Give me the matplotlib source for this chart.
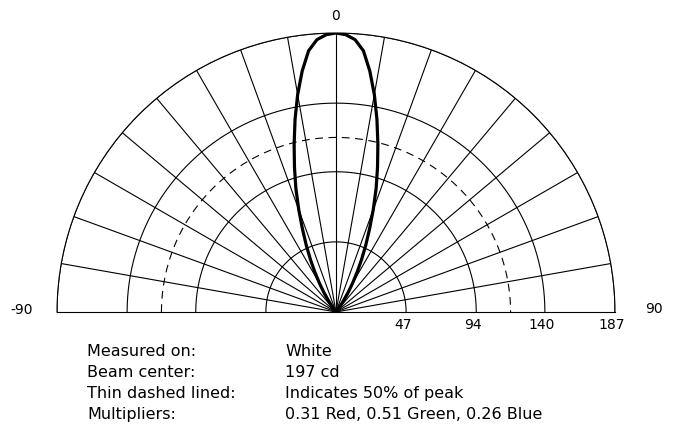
import numpy as np
import matplotlib
matplotlib.use('Agg')
import matplotlib.pyplot as plt
from matplotlib.transforms import ScaledTranslation

# beam profile (degrees, intensity on the 0..187 scale)
angle_deg = [-40, -38, -36, -34, -32, -30, -28, -26, -24, -22, -20, -18, -16, -14, -12, -10, -8, -6, -4, -2,
             0, 2, 4, 6, 8, 10, 12, 14, 16, 18, 20, 22, 24, 26, 28, 30, 32, 34, 36, 38, 40]
intensity = [0, 2, 5, 9, 15, 22, 30, 39, 49, 60, 73, 87, 101, 116, 132, 148, 163, 176, 183, 186,
             187, 186, 183, 176, 163, 148, 132, 116, 101, 87, 73, 60, 49, 39, 30, 22, 15, 9, 5, 2, 0]

ring_values = [47, 94, 140, 187]
ring_labels = ['47', '94', '140', '187']
spoke_angles = [-80, -70, -60, -50, -40, -30, -20, -10, 0, 10, 20, 30, 40, 50, 60, 70, 80]
half_peak = 117
r_max = 187

info_keys = ['Measured on:', 'Beam center:', 'Thin dashed lined:', 'Multipliers:']
info_vals = ['White', '197 cd', 'Indicates 50% of peak', '0.31 Red, 0.51 Green, 0.26 Blue']

fig = plt.figure(figsize=(6.73, 4.28), dpi=100)
# polar wedge bbox is padded to a square, so the axes box is square
ax = fig.add_axes([57 / 673, -23.5 / 428, 558 / 673, 558 / 428], projection='polar')
ax.set_theta_zero_location('N')
ax.set_theta_direction(-1)
ax.set_thetamin(-90)
ax.set_thetamax(90)
ax.set_rlim(0, r_max)
ax.grid(False)
ax.set_xticks([])
ax.set_yticks([])
for s in ax.spines.values():
    s.set_linewidth(0.8)
    s.set_color('black')

arc = np.deg2rad(np.linspace(-90, 90, 361))
for r in ring_values:
    ax.plot(arc, np.full_like(arc, r), color='black', lw=0.8)
for a in spoke_angles:
    ax.plot([np.deg2rad(a)] * 2, [0, r_max], color='black', lw=0.8)

ax.plot(arc, np.full_like(arc, half_peak), color='black', lw=0.8, ls=(0, (7, 5)))
ax.plot(np.deg2rad(angle_deg), intensity, color='black', lw=2.3, solid_joinstyle='round')


def shift(dx, dy):
    # offset in pixels (dpi 100)
    return ax.transData + ScaledTranslation(dx / 100, dy / 100, fig.dpi_scale_trans)


ax.text(0, r_max, '0', ha='center', va='baseline', fontsize=10, transform=shift(0, 13))
ax.text(np.deg2rad(-90), r_max, '-90', ha='right', va='baseline', fontsize=10, transform=shift(-24, -2))
ax.text(np.deg2rad(90), r_max, '90', ha='left', va='baseline', fontsize=10, transform=shift(30, -1))
for r, lab in zip(ring_values, ring_labels):
    ax.text(np.deg2rad(90), r, lab, ha='center', va='baseline', fontsize=10, transform=shift(-3, -17))

for i, (k, v) in enumerate(zip(info_keys, info_vals)):
    y = 1 - (356 + 21 * i) / 428
    fig.text(87 / 673, y, k, ha='left', va='baseline', fontsize=11.5)
    fig.text(285 / 673, y, v, ha='left', va='baseline', fontsize=11.5)

fig.savefig('out.png', dpi=100)
